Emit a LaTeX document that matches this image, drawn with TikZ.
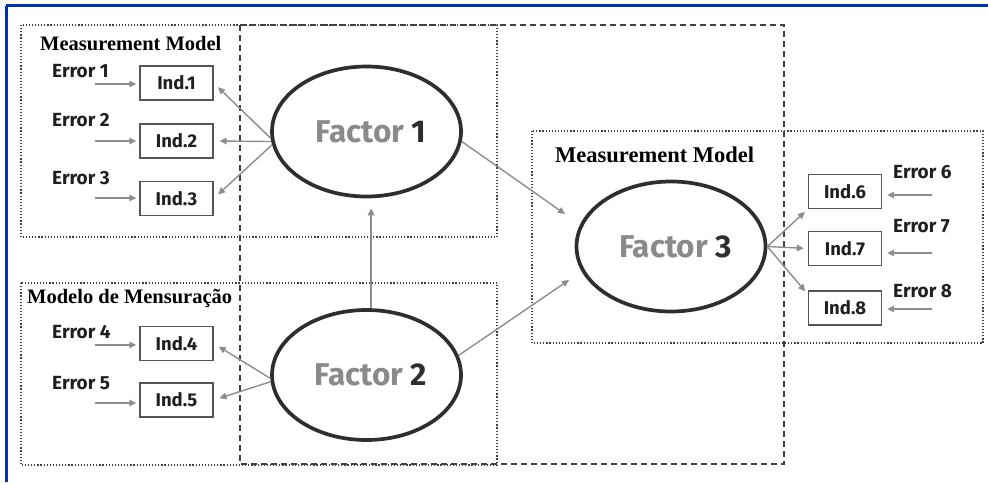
\documentclass[tikz,border=0pt]{standalone}
\usepackage{fontspec}
\setmainfont{Liberation Serif}
\newfontfamily\dinfont{Fira Sans}
\usetikzlibrary{shapes.geometric,arrows.meta}
\definecolor{blueframe}{HTML}{0033AA}
\definecolor{arrowgray}{HTML}{8C8C8C}
\definecolor{boxgray}{HTML}{555555}
\definecolor{darkline}{HTML}{2E2E2E}
\definecolor{factorgray}{HTML}{8A8A8A}
\tikzset{
  indbox/.style={draw=boxgray,line width=1.4pt,rectangle,minimum width=73pt,minimum height=34pt,inner sep=0pt,font=\dinfont\bfseries\fontsize{18.5}{20}\selectfont,text=black!88},
  errlabel/.style={inner sep=0pt,font=\dinfont\bfseries\fontsize{19}{21}\selectfont,text=black!88},
  factorell/.style={draw=darkline,line width=3.7pt,ellipse,minimum width=189pt,minimum height=130pt,inner sep=0pt,font=\dinfont\bfseries\fontsize{31.5}{34}\selectfont},
  arr/.style={draw=arrowgray,line width=1.4pt,-{Triangle[length=7pt,width=6.5pt]}},
  dotbox/.style={draw=black!75,line width=1.2pt,dash pattern=on 1.2pt off 1.9pt},
  dashbox/.style={draw=black!75,line width=1.6pt,dash pattern=on 6pt off 4pt},
  modellabel/.style={inner sep=0pt,font=\bfseries,text=black}
}
\begin{document}
\begin{tikzpicture}[x=1pt,y=-1pt]
\useasboundingbox (0,0) rectangle (988,482);
% frame
\draw[blueframe,line width=3pt] (6,5.5) -- (988,5.5);
\draw[blueframe,line width=3pt] (6,5.5) -- (6,482);
% group boxes
\draw[dotbox] (21,25) rectangle (497,237);
\draw[dotbox] (21,283) rectangle (497,465);
\draw[dotbox] (532,131) rectangle (983,343);
\draw[dashbox] (240,25) rectangle (784,464);
% labels
\node[modellabel,anchor=base west,font=\bfseries\fontsize{20.5}{22}\selectfont] (mm1) at (40,50) {Measurement Model};
\node[modellabel,anchor=base west,font=\bfseries\fontsize{20.5}{22}\selectfont] (mm2) at (27,303) {Modelo de Mensuração};
\node[modellabel,anchor=base west,font=\bfseries\fontsize{22.5}{24}\selectfont] (mm3) at (555,162) {Measurement Model};
% factors
\node[factorell] (f1) at (366.5,131.5) {\hspace*{9pt}\textcolor{factorgray}{Factor} \textcolor{darkline}{1}};
\node[factorell] (f2) at (366.5,375) {\hspace*{9pt}\textcolor{factorgray}{Factor} \textcolor{darkline}{2}};
\node[factorell] (f3) at (671,246.5) {\hspace*{9pt}\textcolor{factorgray}{Factor} \textcolor{darkline}{3}};
% indicators
\node[indbox] (i1) at (176.5,83) {Ind.1};
\node[indbox] (i2) at (176.5,141) {Ind.2};
\node[indbox] (i3) at (176.5,198.5) {Ind.3};
\node[indbox] (i4) at (176.5,343.5) {Ind.4};
\node[indbox] (i5) at (176.5,400) {Ind.5};
\node[indbox] (i6) at (845,191.5) {Ind.6};
\node[indbox] (i7) at (845,248.5) {Ind.7};
\node[indbox] (i8) at (845,308) {Ind.8};
% error labels
\node[errlabel,anchor=west] (e1) at (52,71) {Error 1};
\node[errlabel,anchor=west] (e2) at (52,120) {Error 2};
\node[errlabel,anchor=west] (e3) at (52,178) {Error 3};
\node[errlabel,anchor=west] (e4) at (52,332) {Error 4};
\node[errlabel,anchor=west] (e5) at (52,383) {Error 5};
\node[errlabel,anchor=west] (e6) at (893,172) {Error 6};
\node[errlabel,anchor=west] (e7) at (893,226) {Error 7};
\node[errlabel,anchor=west] (e8) at (893,291) {Error 8};
% error arrow starts
\coordinate (s1) at (95,84);
\coordinate (s2) at (95,141);
\coordinate (s3) at (95,198);
\coordinate (s4) at (95,345);
\coordinate (s5) at (95,403);
\coordinate (s6) at (932,195);
\coordinate (s7) at (932,253);
\coordinate (s8) at (932,309);
\draw[arr,shorten >=3pt] (s1) -- (s1 -| i1.west);
\draw[arr,shorten >=3pt] (s2) -- (s2 -| i2.west);
\draw[arr,shorten >=3pt] (s3) -- (s3 -| i3.west);
\draw[arr,shorten >=3pt] (s4) -- (s4 -| i4.west);
\draw[arr,shorten >=3pt] (s5) -- (s5 -| i5.west);
\draw[arr,shorten >=5pt] (s6) -- (s6 -| i6.east);
\draw[arr,shorten >=5pt] (s7) -- (s7 -| i7.east);
\draw[arr,shorten >=5pt] (s8) -- (s8 -| i8.east);
% loadings
\draw[arr,shorten >=6pt] (f1.184) -- (i1.east);
\draw[arr,shorten >=6pt] (f1.186) -- (i2.east);
\draw[arr,shorten >=6pt] (f1.188) -- (i3.east);
\draw[arr,shorten >=6pt] (f2.182) -- (i4.east);
\draw[arr,shorten >=6pt] (f2.184) -- (i5.east);
\draw[arr,shorten >=4pt] (f3.east) -- (i6.south west);
\draw[arr,shorten >=4pt] (f3.east) -- (i7.west);
\draw[arr,shorten >=4pt] (f3.east) -- ([yshift=-4pt]i8.north west);
% structural
\coordinate (t13) at (565,214);
\coordinate (t23) at (569,280);
\draw[arr] (f1.354) -- (t13);
\draw[arr] (f2.12) -- (t23);
\draw[arr,shorten >=10pt] (f2.86) -- (f1.274);
\end{tikzpicture}
\end{document}
